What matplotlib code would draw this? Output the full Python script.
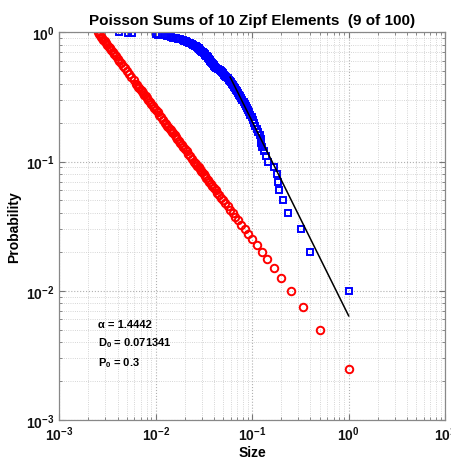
import matplotlib

matplotlib.use("Agg")

import matplotlib.pyplot as plt
import numpy as np
from matplotlib.ticker import FixedLocator, LogLocator, NullFormatter

plt.rcParams["font.family"] = ["Liberation Sans", "DejaVu Sans"]
plt.rcParams["mathtext.fontset"] = "custom"
plt.rcParams["mathtext.rm"] = "Liberation Sans"
plt.rcParams["mathtext.bf"] = "Liberation Sans:bold"
plt.rcParams["mathtext.it"] = "Liberation Sans:italic"

# model points (red): counts n, size = 1/n, probability = n/400
red_count = (
    list(range(1, 41))
    + [42, 44, 46, 48, 50, 52, 54, 56, 58, 60, 62, 64, 66, 68, 70, 72, 74, 76, 78, 80]
    + [84, 88, 92, 96, 100, 104, 108, 112, 116, 120, 124, 128, 132, 136, 140, 144,
       148, 152, 156, 160]
    + [170, 180, 190, 200, 210, 220, 230, 240, 250, 260, 270, 280, 290, 300, 310,
       320, 330, 340, 350, 360, 370, 380, 390, 400]
)
red_total = 400

# measured points (blue): probability k/100 against normalised size
blue_prob = [k / 100 for k in range(100, 0, -1)]
blue_size = [
    0.0041, 0.0052, 0.0057, 0.0100, 0.0104, 0.0125, 0.0130, 0.0138, 0.0145, 0.0152,
    0.0160, 0.0170, 0.0180, 0.0190, 0.0198, 0.0205, 0.0212, 0.0220, 0.0228, 0.0236,
    0.0244, 0.0252, 0.0260, 0.0267, 0.0272, 0.0278, 0.0283, 0.0290, 0.0296, 0.0302,
    0.0308, 0.0314, 0.0320, 0.0326, 0.0332, 0.0338, 0.0344, 0.0350, 0.0356, 0.0362,
    0.0368, 0.0375, 0.0382, 0.0390, 0.0398, 0.0405, 0.0415, 0.0425, 0.0440, 0.0460,
    0.0472, 0.0485, 0.0498, 0.0510, 0.0525, 0.0540, 0.0555, 0.0570, 0.0585, 0.0600,
    0.0615, 0.0632, 0.0650, 0.0665, 0.0680, 0.0695, 0.0710, 0.0725, 0.0745, 0.0765,
    0.0790, 0.0815, 0.0845, 0.0862, 0.0878, 0.0895, 0.0925, 0.0955, 0.0985, 0.1010,
    0.1040, 0.1070, 0.1110, 0.1150, 0.1190, 0.1225, 0.1245, 0.1265, 0.1330, 0.1400,
    0.1470, 0.1690, 0.1800, 0.1870, 0.1900, 0.2080, 0.2350, 0.3230, 0.4000, 1.0000,
]

# power-law fit line (black)
fit_size = [0.059, 1.0]
fit_prob = [0.45, 0.0064]

alpha = 1.4442
d0 = 0.071341
p0 = 0.3

fig = plt.figure(figsize=(4.52, 4.60), dpi=100)
ax = fig.add_axes([0.1316, 0.0848, 0.853, 0.8428])

red_count = np.array(red_count, dtype=float)
ax.plot(1 / red_count, red_count / red_total, "o", ls="none", ms=5.4,
        mfc="none", mec="#ff0000", mew=1.4)
ax.plot(blue_size, blue_prob, "s", ls="none", ms=5.0,
        mfc="none", mec="#0000ff", mew=1.4)
ax.plot(fit_size, fit_prob, "-", color="black", lw=1.1)

ax.set_xscale("log")
ax.set_yscale("log")
ax.set_xlim(1e-3, 10)
ax.set_ylim(1e-3, 1)

ax.xaxis.set_major_locator(FixedLocator([1e-3, 1e-2, 1e-1, 1e0, 1e1]))
ax.yaxis.set_major_locator(FixedLocator([1e-3, 1e-2, 1e-1, 1e0]))
ax.xaxis.set_minor_locator(LogLocator(base=10, subs=np.arange(2, 10), numticks=20))
ax.yaxis.set_minor_locator(LogLocator(base=10, subs=np.arange(2, 10), numticks=20))
ax.xaxis.set_minor_formatter(NullFormatter())
ax.yaxis.set_minor_formatter(NullFormatter())
ax.set_xticklabels([r"$\mathbf{10^{%d}}$" % e for e in [-3, -2, -1, 0, 1]])
ax.set_yticklabels([r"$\mathbf{10^{%d}}$" % e for e in [-3, -2, -1, 0]])

ax.tick_params(which="both", direction="in", top=True, right=True,
               color="#777777", labelsize=10, labelcolor="#111111")
ax.tick_params(which="major", length=4)
ax.tick_params(which="minor", length=2)
ax.grid(which="major", color="#b0b0b0", ls=":", lw=0.8)
ax.grid(which="minor", color="#c8c8c8", ls=":", lw=0.6)
ax.set_axisbelow(True)
for spine in ax.spines.values():
    spine.set_color("#888888")
    spine.set_linewidth(0.9)

ax.set_title("Poisson Sums of 10 Zipf Elements  (9 of 100)", fontsize=11,
             fontweight="bold", pad=6)
ax.set_xlabel("Size", fontsize=10, fontweight="bold", labelpad=1)
ax.set_ylabel("Probability", fontsize=10, fontweight="bold", labelpad=4)

ax.text(0.0025, 0.0055, "\u03b1 = %.4f" % alpha, fontsize=8,
        fontweight="bold", va="center")
ax.text(0.0025, 0.0040, r"D$_\mathbf{0}$ = %g" % d0, fontsize=8,
        fontweight="bold", va="center")
ax.text(0.0025, 0.0028, r"P$_\mathbf{0}$ = %g" % p0, fontsize=8,
        fontweight="bold", va="center")

fig.savefig("out.png", dpi=100, facecolor="white")
